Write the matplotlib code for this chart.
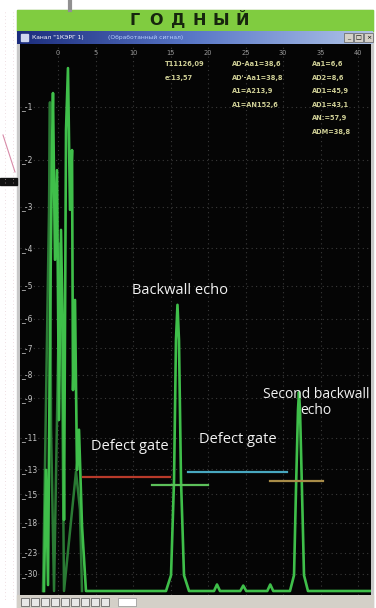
import numpy as np
import matplotlib
matplotlib.use('Agg')
import matplotlib.pyplot as plt
from matplotlib.patches import Rectangle
from matplotlib.transforms import blended_transform_factory

W, H = 376, 608

# time base ticks and amplitude labels (dB)
x_ticks = [0, 5, 10, 15, 20, 25, 30, 35, 40]
db_ticks = [-1, -2, -3, -4, -5, -6, -7, -8, -9, -11, -13, -15, -18, -23, -30]

# A-scan, current signal (time, amplitude 0..1)
scan_x = [-1.87, -1.60, -1.33, -1.07, -0.80, -0.67, -0.40, -0.13, 0.13, 0.40,
          0.67, 0.80, 1.07, 1.33, 1.60, 1.87, 2.00, 2.27, 2.53, 2.80, 3.20, 3.73,
          8.0, 14.4, 15.07, 15.47, 15.73, 15.93, 16.13, 16.40, 16.80, 17.47,
          20.8, 21.2, 21.6, 24.3, 24.7, 25.1, 27.9, 28.3, 28.7,
          30.93, 31.47, 31.73, 32.00, 32.13, 32.27, 32.53, 32.80, 33.33, 41.9]
scan_a = [0.0, 0.223, 0.011, 0.481, 0.812, 0.917, 0.610, 0.775, 0.315, 0.665,
          0.444, 0.131, 0.849, 0.963, 0.702, 0.812, 0.370, 0.536, 0.223, 0.297, 0.120, 0.0,
          0.0, 0.0, 0.029, 0.204, 0.462, 0.527, 0.462, 0.204, 0.029, 0.0,
          0.0, 0.012, 0.0, 0.0, 0.010, 0.0, 0.0, 0.012, 0.0,
          0.0, 0.029, 0.186, 0.333, 0.366, 0.333, 0.186, 0.029, 0.0, 0.0]

# stored (dimmed) signal in the probe-pulse zone
ghost_x = [-2.0, -1.2, -1.07, -0.93, -0.53, 0.27, 0.53, 0.80, 2.40, 2.93, 3.20]
ghost_a = [0.0, 0.70, 0.90, 0.30, 0.0, 0.64, 0.43, 0.0, 0.22, 0.15, 0.0]

# gates: start, end, level, colour
gate_start = [3.33, 12.5, 17.3, 28.3]
gate_end = [14.9, 20.0, 30.5, 35.3]
gate_level = [0.210, 0.196, 0.219, 0.203]
gate_color = ['#b83a2a', '#5cc05a', '#48a8c0', '#a88c48']

# measurement readouts
read_col1 = ["T11126,09", "e:13,57"]
read_col2 = ["AD-Aa1=38,6", "AD'-Aa1=38,8", "A1=A213,9", "A1=AN152,6"]
read_col3 = ["Aa1=6,6", "AD2=8,6", "AD1=45,9", "AD1=43,1", "AN:=57,9", "ADM=38,8"]


def box(x0, y0, x1, y1):
    return [x0 / W, 1 - y1 / H, (x1 - x0) / W, (y1 - y0) / H]


fig = plt.figure(figsize=(W / 100, H / 100), dpi=100, facecolor='white')

# window frame, banner, title bar, status bar
bg = fig.add_axes([0, 0, 1, 1])
bg.set_xlim(0, W)
bg.set_ylim(H, 0)
bg.axis('off')
bg.add_patch(Rectangle((17, 10), 356, 598, color='#c8c8c8'))
bg.add_patch(Rectangle((17, 10), 356, 21, color='#80cc40'))
for i, ch in enumerate("ГОДНЫЙ"):
    bg.text(135 + i * 21.5, 20.5, ch, ha='center', va='center', fontsize=11.5,
            fontweight='bold', color='#17260e')
grad = np.linspace(0, 1, 256).reshape(1, -1)
bg.imshow(grad, extent=(17, 373, 44, 31), aspect='auto',
          cmap=matplotlib.colors.LinearSegmentedColormap.from_list(
              'tb', ['#1b2c7c', '#5a78c8', '#b0c4e8']), zorder=1)
bg.add_patch(Rectangle((21, 34), 7, 7, color='#d0d8f0', zorder=2))
bg.text(32, 37.5, 'Канал "1КЭРГ 1)', fontsize=4.3, color='white', va='center', zorder=3)
bg.text(108, 37.5, '(Обработанный сигнал)', fontsize=4.3, color='#b8d0ff', va='center', zorder=3)
for bx, sym in zip([344, 354, 364], ['_', '□', '×']):
    bg.add_patch(Rectangle((bx, 33), 9, 9, facecolor='#d4d0c8', edgecolor='#606060', lw=0.5, zorder=2))
    bg.text(bx + 4.5, 37.5, sym, fontsize=4.5, ha='center', va='center', color='black', zorder=3)
bg.add_patch(Rectangle((17, 595), 356, 13, color='#d4d0c8'))
for i in range(9):
    bg.add_patch(Rectangle((21 + i * 10, 598), 8, 8, facecolor='#e8e8e8', edgecolor='#505050', lw=0.5))
bg.add_patch(Rectangle((118, 598), 18, 8, facecolor='white', edgecolor='#909090', lw=0.5))
# neighbouring page elements
bg.plot([3, 15], [135, 172], color='#d88aa8', lw=0.8)
bg.add_patch(Rectangle((0, 178), 17, 7, color='#111111'))
for xx in (5, 13):
    bg.plot([xx, xx], [12, 600], color='#e0c0c8', lw=0.5, ls=(0, (1, 4)))
bg.plot([70, 70], [0, 10], color='#909090', lw=3)

# oscilloscope screen
ax = fig.add_axes(box(20, 44, 371, 595))
ax.set_facecolor('#050505')
ax.set_xlim((20 - 58) / 7.5, (371 - 58) / 7.5)
ax.set_ylim((591 - 595) / 543, (591 - 44) / 543)
for s in ax.spines.values():
    s.set_visible(False)
ax.set_xticks([])
ax.set_yticks([])

db_pos = [10 ** (d / 20) for d in db_ticks]
for xt in x_ticks:
    ax.axvline(xt, color='#3a3a3a', lw=0.8, ls=(0, (1, 3)), zorder=1)
for yp in db_pos:
    ax.axhline(yp, color='#3a3a3a', lw=0.8, ls=(0, (1, 3)), zorder=1)

top = blended_transform_factory(ax.transData, ax.transAxes)
for xt in x_ticks:
    ax.text(xt, 0.984, str(xt), transform=top, ha='center', va='center',
            fontsize=4.8, color='#9a9a9a')
left = blended_transform_factory(ax.transAxes, ax.transData)
for d, yp in zip(db_ticks, db_pos):
    ax.text(0.003, yp, '_' + str(d), transform=left, ha='left', va='center',
            fontsize=5.5, color='#c4c4c4')

ax.plot(ghost_x, ghost_a, color='#2a7a34', lw=1.8, zorder=2)
ax.plot(scan_x, scan_a, color='#3fbf4a', lw=1.9, zorder=3)

for x0, x1, lv, c in zip(gate_start, gate_end, gate_level, gate_color):
    ax.plot([x0, x1], [lv, lv], color=c, lw=1.6, zorder=4)

ro_kw = dict(transform=fig.transFigure, fontsize=4.8, fontweight='bold',
             color='#cfcf96', va='center', ha='left')
for col_x, col in zip([165, 232, 312], [read_col1, read_col2, read_col3]):
    for i, t in enumerate(col):
        fig.text(col_x / W, 1 - (64 + 13.6 * i) / H, t, **ro_kw)

# callouts
note_kw = dict(fontsize=10.5, color='#f2f2f2', family='Open Sans', ha='center', va='center', zorder=5)
ax.text(16.2, 0.553, 'Backwall echo', **note_kw)
ax.text(34.4, 0.347, 'Second backwall\necho', linespacing=1.15,
        **dict(note_kw, fontsize=10))
ax.text(9.6, 0.267, 'Defect gate', **note_kw)
ax.text(24.0, 0.279, 'Defect gate', **note_kw)

fig.savefig('out.png', dpi=100, facecolor='white')
